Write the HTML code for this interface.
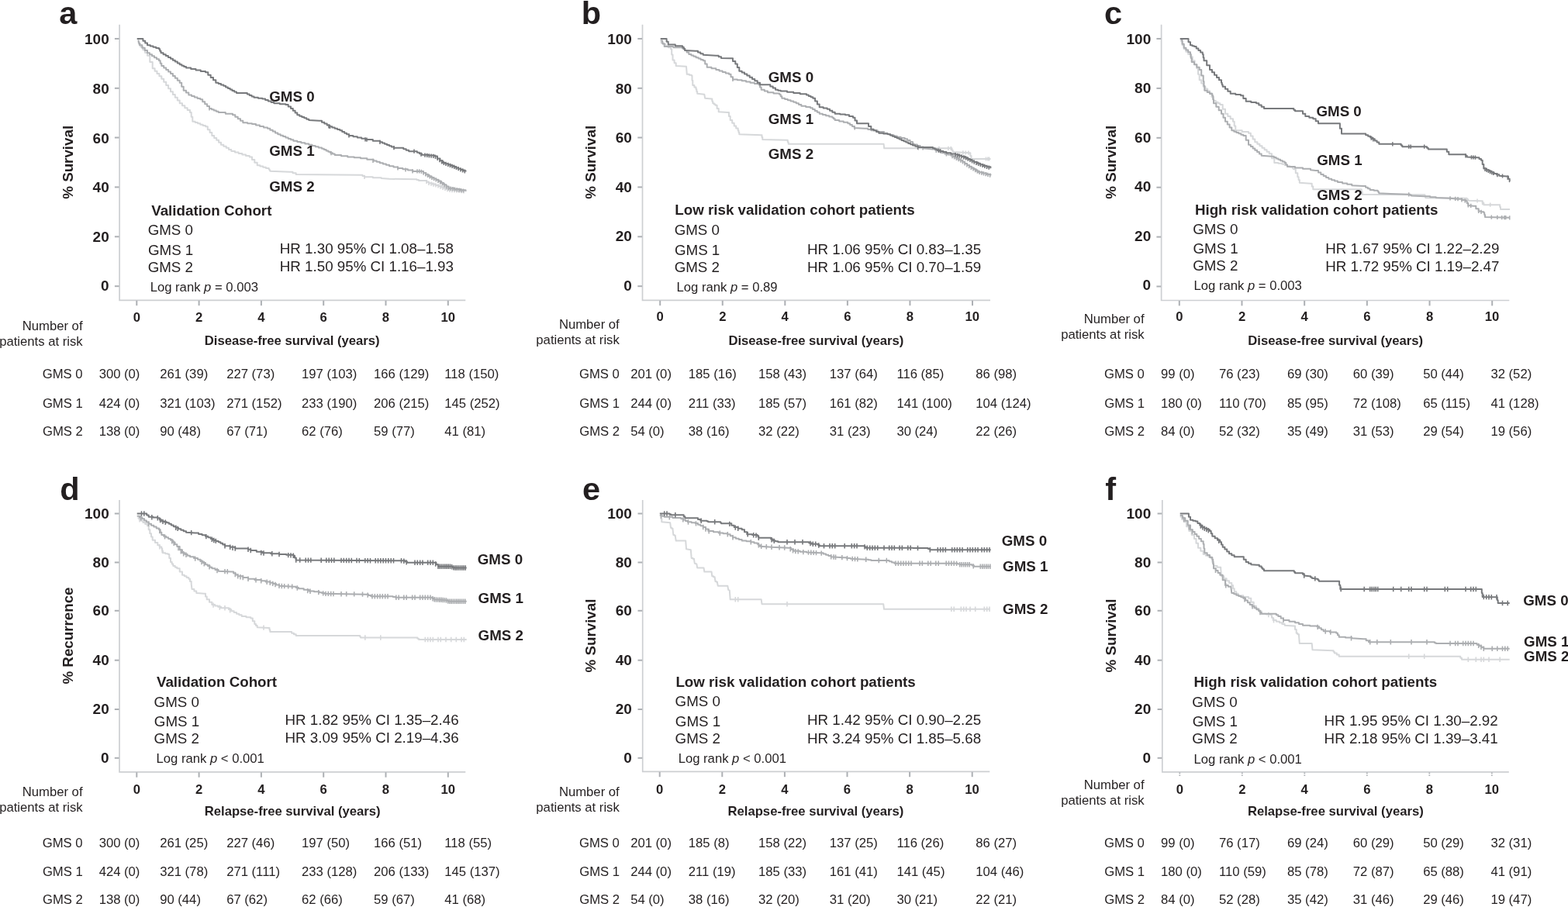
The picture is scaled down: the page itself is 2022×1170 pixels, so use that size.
<!DOCTYPE html>
<html lang="en"><head><meta charset="utf-8"><title>Kaplan–Meier survival by GMS – validation cohort</title>
<style>
html,body{margin:0;padding:0;background:#fff;}
body{width:2022px;height:1170px;overflow:hidden;}
svg{display:block;font-family:"Liberation Sans",Arial,Helvetica,sans-serif;fill:#231f20;}
</style></head><body>
<svg width="2022" height="1170" viewBox="0 0 2022 1170" role="img" aria-label="Kaplan-Meier survival curves by GMS score, panels a to f">
<rect width="2022" height="1170" fill="#fff"/>
<g id="panel-a">
<path d="M178.3 56.7H181.2V60.4H184.2V64.2H187.1V67.9H190.0V71.7H193.3V80.0H196.7V88.3H199.6V91.7H202.5V95.0H205.4V98.3H208.3V101.7H211.2V105.8H214.2V110.0H217.1V114.2H220.0V118.3H222.9V122.1H225.8V125.8H228.8V129.6H231.7V133.3H235.0V136.2H238.3V139.2H241.7V142.1H245.0V145.0H246.7V150.8H248.3V156.7H251.7V158.0H255.0V159.3H258.3V160.7H261.7V162.0H265.0V163.3H267.8V167.2H270.6V171.1H273.3V175.0H276.2V177.9H279.2V180.8H282.1V183.8H285.0V186.7H288.3V188.8H291.7V190.8H295.0V192.9H298.3V195.0H303.0V196.5H307.7V198.0H312.3V199.5H317.0V201.0H321.7V202.5H325.0V206.1H328.3V209.7H331.7V213.3H335.4V214.6H339.2V215.8H342.9V217.1H346.7V218.3H347.5V219.6H348.3V220.8L373.3 221.7H377.5V223.3H381.7V225.0L465.0 225.8H467.5V227.1H470.0V228.3H480.8V229.2H491.7V230.0L502.0 230.8L534.9 231.2H537.4V232.1H540.0V233.1L547.7 233.1H550.3V234.7H552.9V236.3H557.2V237.6H561.5V238.9H565.7V240.2H569.0V241.4H572.2V242.7H575.4V244.0H578.6V245.3H589.5V246.3H600.5V247.2L600.5 247.2" fill="none" stroke="#d6d8da" stroke-width="2.0" stroke-linejoin="round"/>
<path d="M470.0 225.7v5.2M550.0 231.9v5.2M553.0 233.7v5.2M556.0 234.6v5.2M559.0 235.5v5.2M562.0 236.4v5.2M565.0 237.3v5.2M568.0 238.5v5.2M571.0 239.7v5.2M574.0 240.9v5.2M577.0 242.1v5.2M580.0 242.8v5.2M583.0 243.1v5.2M586.0 243.4v5.2M589.0 243.6v5.2M592.0 243.9v5.2M595.0 244.1v5.2M598.0 244.4v5.2" fill="none" stroke="#d6d8da" stroke-width="1.6"/>
<path d="M177.5 52.5H178.8V55.4H180.0V58.3H183.3V61.7H186.7V65.0H190.0V68.3H193.0V70.3H196.0V72.3H199.0V74.3H202.0V76.3H205.0V78.3H206.7V81.7H208.3V85.0H211.2V87.5H214.2V90.0H217.1V92.5H220.0V95.0H222.9V97.9H225.8V100.8H228.8V103.8H231.7V106.7H234.2V111.7H236.7V116.7H240.0V119.6H243.3V122.5H247.1V124.0H250.8V125.4H254.6V126.9H258.3V128.3H261.2V131.2H264.2V134.2H267.1V137.1H270.0V140.0H272.9V141.2H275.8V142.5H278.8V143.8H281.7V145.0H290.8V146.7H300.0V148.3H303.3V150.8H306.7V153.3H310.0V155.8H313.3V158.3H319.2V159.2H325.0V160.0H330.0V161.5H335.0V162.9H340.0V164.4H345.0V165.8H348.3V167.7H351.7V169.6H355.0V171.5H358.3V173.3H361.7V174.7H365.0V176.1H368.3V177.5H371.7V178.9H375.0V180.3H378.3V181.7H383.3V182.9H388.3V184.2H393.3V185.4H398.3V186.7H402.5V187.9H406.7V189.2H410.8V190.4H415.0V191.7H417.8V193.1H420.6V194.4H423.3V195.8H426.1V197.2H428.9V198.6H431.7V200.0H440.0V201.2H448.3V202.5H456.7V203.3H465.0V204.2H473.3V205.8H481.7V207.5H485.7V208.8H489.8V210.2H493.9V211.5H497.9V212.8H502.0V214.2H507.5V215.6H513.0V217.0H519.4V218.3H525.9V219.6H532.3V220.9L542.6 220.9H546.0V223.0H549.4V225.2H552.9V227.3H556.1V228.9H559.3V230.5H562.5V232.1H565.7V233.7H569.0V236.0H572.2V238.2H575.4V240.5H578.6V242.7H585.9V244.0H593.2V245.3H600.5V246.6L600.5 246.6" fill="none" stroke="#acaeb1" stroke-width="2.0" stroke-linejoin="round"/>
<path d="M270.0 137.4v5.2M427.0 195.1v5.2M481.0 204.8v5.2M513.0 214.4v5.2M523.0 216.4v5.2M532.0 218.2v5.2M538.0 218.3v5.2M540.7 218.3v5.2M543.4 218.8v5.2M546.1 220.5v5.2M548.8 222.2v5.2M551.5 223.8v5.2M554.2 225.4v5.2M556.9 226.7v5.2M559.6 228.1v5.2M562.3 229.4v5.2M565.0 230.8v5.2M567.7 232.5v5.2M570.4 234.4v5.2M573.1 236.3v5.2M575.8 238.2v5.2M578.5 240.1v5.2M581.2 240.6v5.2M583.9 241.1v5.2M586.6 241.5v5.2M589.3 242.0v5.2M592.0 242.5v5.2M594.7 243.0v5.2M597.4 243.4v5.2" fill="none" stroke="#acaeb1" stroke-width="1.6"/>
<path d="M176.7 50.0L181.7 50.0H184.4V52.8H187.2V55.6H190.0V58.3H193.8V59.6H197.5V60.8H201.2V62.1H205.0V63.3H206.2V65.8H207.5V68.3H210.6V70.2H213.8V72.1H216.9V74.0H220.0V75.8H222.9V77.7H225.8V79.6H228.8V81.5H231.7V83.3H234.4V84.7H237.2V86.1H240.0V87.5H246.2V89.0H252.5V90.4H258.8V91.9H265.0V93.3H268.3V96.7H271.7V100.0H275.0V103.3H278.3V106.7H281.7V108.1H285.0V109.4H288.3V110.8H291.1V112.4H293.9V113.9H296.7V115.4H299.4V116.9H302.2V118.5H305.0V120.0L315.8 120.0H318.8V121.5H321.7V122.9H324.6V124.4H327.5V125.8H332.9V126.7H338.3V127.5H342.1V129.0H345.8V130.4H349.6V131.9H353.3V133.3H360.8V134.2H368.3V135.0H371.7V137.5H375.0V140.0H377.8V142.8H380.6V145.6H383.3V148.3H386.3V149.7H389.3V151.0H392.3V152.3H395.3V153.7H398.3V155.0L411.7 155.8H415.0V157.7H418.3V159.6H421.7V161.5H425.0V163.3H428.3V164.6H431.7V165.8H435.0V167.1H438.3V168.3H441.2V170.0H444.2V171.7H447.1V173.3H450.0V175.0H455.4V176.2H460.8V177.5H466.2V178.8H471.7V180.0H480.8V181.7H490.0V183.3H493.0V184.6H496.0V185.8H499.0V187.1H502.0V188.3H504.9V189.5H507.9V190.7L516.9 190.7H520.3V192.2H523.7V193.7H527.2V195.2L534.9 195.2H537.9V196.7H540.9V198.2H543.9V199.7H552.2V200.6H560.6V201.6H564.0V204.4H567.5V207.2H570.9V209.9H574.4V211.2H578.0V212.5H581.5V213.8H585.0V215.1H588.1V216.4H591.2V217.7H594.3V218.9H597.4V220.2H600.5V221.5L600.5 221.5" fill="none" stroke="#77797c" stroke-width="2.0" stroke-linejoin="round"/>
<path d="M424.0 160.2v5.2M425.5 160.9v5.2M450.0 172.4v5.2M471.0 177.2v5.2M473.0 177.6v5.2M490.0 180.7v5.2M508.0 188.1v5.2M534.0 192.6v5.2M543.0 196.6v5.2M548.0 197.5v5.2M550.7 197.8v5.2M553.4 198.2v5.2M556.1 198.5v5.2M558.8 198.8v5.2M561.5 199.7v5.2M564.2 201.9v5.2M566.9 204.1v5.2M569.6 206.3v5.2M572.3 207.9v5.2M575.0 208.8v5.2M577.7 209.8v5.2M580.4 210.8v5.2M583.1 211.8v5.2M585.8 212.8v5.2M588.5 213.9v5.2M591.2 215.1v5.2M593.9 216.2v5.2M596.6 217.3v5.2M599.3 218.4v5.2" fill="none" stroke="#77797c" stroke-width="1.6"/>
<path d="M154.10 31.70V387.30H600.30" fill="none" stroke="#cdcfd2" stroke-width="1.7"/>
<line x1="147.90" y1="49.95" x2="153.60" y2="49.95" stroke="#adb0b4" stroke-width="2.0"/>
<text x="109.03" y="57.40" font-size="19.0" font-weight="bold">100</text>
<line x1="147.90" y1="113.80" x2="153.60" y2="113.80" stroke="#adb0b4" stroke-width="2.0"/>
<text x="119.57" y="120.90" font-size="19.0" font-weight="bold">80</text>
<line x1="147.90" y1="177.50" x2="153.60" y2="177.50" stroke="#adb0b4" stroke-width="2.0"/>
<text x="119.57" y="184.50" font-size="19.0" font-weight="bold">60</text>
<line x1="147.90" y1="241.40" x2="153.60" y2="241.40" stroke="#adb0b4" stroke-width="2.0"/>
<text x="119.57" y="248.00" font-size="19.0" font-weight="bold">40</text>
<line x1="147.90" y1="305.30" x2="153.60" y2="305.30" stroke="#adb0b4" stroke-width="2.0"/>
<text x="119.57" y="311.60" font-size="19.0" font-weight="bold">20</text>
<line x1="147.90" y1="369.20" x2="153.60" y2="369.20" stroke="#adb0b4" stroke-width="2.0"/>
<text x="130.12" y="375.10" font-size="19.0" font-weight="bold">0</text>
<line x1="176.30" y1="387.80" x2="176.30" y2="394.20" stroke="#adb0b4" stroke-width="2.0"/>
<text x="171.67" y="414.50" font-size="16.67" font-weight="bold">0</text>
<line x1="256.60" y1="387.80" x2="256.60" y2="394.20" stroke="#adb0b4" stroke-width="2.0"/>
<text x="252.02" y="414.50" font-size="16.67" font-weight="bold">2</text>
<line x1="336.90" y1="387.80" x2="336.90" y2="394.20" stroke="#adb0b4" stroke-width="2.0"/>
<text x="332.19" y="414.50" font-size="16.67" font-weight="bold">4</text>
<line x1="417.20" y1="387.80" x2="417.20" y2="394.20" stroke="#adb0b4" stroke-width="2.0"/>
<text x="412.57" y="414.50" font-size="16.67" font-weight="bold">6</text>
<line x1="497.50" y1="387.80" x2="497.50" y2="394.20" stroke="#adb0b4" stroke-width="2.0"/>
<text x="492.87" y="414.50" font-size="16.67" font-weight="bold">8</text>
<line x1="577.80" y1="387.80" x2="577.80" y2="394.20" stroke="#adb0b4" stroke-width="2.0"/>
<text x="568.38" y="414.50" font-size="16.67" font-weight="bold">10</text>
<text x="76.15" y="30.80" font-size="41.5" font-weight="bold">a</text>
<text transform="translate(94.00 209.30) rotate(-90)" text-anchor="middle" font-size="18.75" font-weight="bold">% Survival</text>
<text x="263.72" y="445.00" font-size="16.67" font-weight="bold">Disease-free survival (years)</text>
<text x="28.75" y="425.80" font-size="16.67">Number of</text>
<text x="-0.84" y="445.80" font-size="16.67">patients at risk</text>
<text x="195.21" y="277.60" font-size="18.75" font-weight="bold">Validation Cohort</text>
<text x="190.66" y="303.20" font-size="18.75">GMS 0</text>
<text x="190.96" y="328.60" font-size="18.75">GMS 1</text>
<text x="190.66" y="350.60" font-size="18.75">GMS 2</text>
<text x="360.80" y="327.00" font-size="18.75">HR 1.30 95% CI 1.08–1.58</text>
<text x="360.80" y="350.30" font-size="18.75">HR 1.50 95% CI 1.16–1.93</text>
<text x="193.67" y="375.60" font-size="16.67">Log rank <tspan font-style="italic">p</tspan> = 0.003</text>
<text x="347.25" y="131.20" font-size="18.75" font-weight="bold">GMS 0</text>
<text x="347.25" y="200.70" font-size="18.75" font-weight="bold">GMS 1</text>
<text x="347.25" y="246.70" font-size="18.75" font-weight="bold">GMS 2</text>
<text x="54.74" y="487.50" font-size="16.67">GMS 0</text>
<text x="127.63" y="487.50" font-size="16.67">300 (0)</text>
<text x="206.17" y="487.50" font-size="16.67">261 (39)</text>
<text x="292.17" y="487.50" font-size="16.67">227 (73)</text>
<text x="389.10" y="487.50" font-size="16.67">197 (103)</text>
<text x="482.10" y="487.50" font-size="16.67">166 (129)</text>
<text x="573.30" y="487.50" font-size="16.67">118 (150)</text>
<text x="54.91" y="525.80" font-size="16.67">GMS 1</text>
<text x="127.63" y="525.80" font-size="16.67">424 (0)</text>
<text x="206.17" y="525.80" font-size="16.67">321 (103)</text>
<text x="292.17" y="525.80" font-size="16.67">271 (152)</text>
<text x="389.10" y="525.80" font-size="16.67">233 (190)</text>
<text x="482.10" y="525.80" font-size="16.67">206 (215)</text>
<text x="573.30" y="525.80" font-size="16.67">145 (252)</text>
<text x="54.99" y="561.70" font-size="16.67">GMS 2</text>
<text x="127.63" y="561.70" font-size="16.67">138 (0)</text>
<text x="206.17" y="561.70" font-size="16.67">90 (48)</text>
<text x="292.17" y="561.70" font-size="16.67">67 (71)</text>
<text x="389.10" y="561.70" font-size="16.67">62 (76)</text>
<text x="482.10" y="561.70" font-size="16.67">59 (77)</text>
<text x="573.30" y="561.70" font-size="16.67">41 (81)</text>
</g>
<g id="panel-b">
<path d="M851.7 55.0H855.0V57.1H858.3V59.2H861.7V61.2H865.0V63.3H866.2V70.4H867.5V77.5H869.6V81.2H871.7V85.0L885.0 85.8L885.8 95.8H888.8V96.7H891.7V97.5H892.5V103.8H893.3V110.0H895.4V112.5H897.5V115.0H898.3V117.9H899.2V120.8L908.3 121.7L909.2 126.7L917.5 127.5H918.3V130.4H919.2V133.3H920.8V134.6H922.5V135.8H924.6V140.0H926.7V144.2L938.3 145.0H940.0V150.0H941.7V155.0H944.2V158.8H946.7V162.5H949.2V165.4H951.7V168.3H952.5V170.8H953.3V173.3L981.7 174.2H982.5V177.1H983.3V180.0L1015.0 180.8H1015.8V183.3H1016.7V185.8L1060.0 185.8L1139.6 185.8L1140.2 191.3L1226.3 191.3H1227.5V193.7H1228.7V196.0L1250.1 197.2H1251.3V201.1H1252.5V205.0L1277.4 205.0L1277.5 205.0" fill="none" stroke="#d6d8da" stroke-width="2.0" stroke-linejoin="round"/>
<path d="M1184.2 188.7v5.2M1210.9 188.7v5.2M1222.8 188.7v5.2M1226.3 188.7v5.2M1241.8 194.2v5.2M1245.3 194.4v5.2M1248.9 194.6v5.2M1271.5 202.4v5.2M1273.9 202.4v5.2M1275.6 202.4v5.2" fill="none" stroke="#d6d8da" stroke-width="1.6"/>
<path d="M851.7 52.5H854.2V56.2H856.7V60.0H868.3V61.2H880.0V62.5H882.8V65.0H885.6V67.5H888.3V70.0H891.4V71.4H894.4V72.8H897.5V74.2H900.6V75.6H903.6V76.9H906.7V78.3H909.2V82.5H911.7V86.7H917.5V88.3H923.3V90.0H927.5V91.5H931.7V92.9H935.8V94.4H940.0V95.8H942.5V99.2H945.0V102.5H950.8V103.3H956.7V104.2H962.1V105.4H967.5V106.7H972.9V107.9H978.3V109.2H980.0V112.5H981.7V115.8H985.8V117.5H990.0V119.2H997.5V120.4H1005.0V121.7H1006.7V124.2H1008.3V126.7H1012.1V127.9H1015.8V129.2H1019.6V130.4H1023.3V131.7H1026.7V133.3H1030.0V135.0H1033.3V136.7H1039.2V137.9H1045.0V139.2H1047.9V141.0H1050.8V142.9H1053.8V144.8H1056.7V146.7H1060.8V147.9H1065.0V149.2H1069.2V150.4H1073.3V151.7H1075.0V153.3H1076.7V155.0H1082.2V156.4H1087.8V157.8H1093.3V159.2H1096.1V161.1H1098.9V163.1H1101.7V165.0L1115.0 165.8H1119.2V167.1H1123.3V168.3H1131.7V170.0H1140.0V171.7H1144.2V172.9H1148.3V174.2H1152.5V175.4H1156.7V176.7H1161.7V177.9H1166.7V179.2H1170.1V181.1H1173.6V183.1H1177.0V185.0H1177.9V185.8H1178.8V186.5H1182.8V188.1H1186.7V189.7H1190.7V191.3L1202.6 192.5H1206.5V194.1H1210.5V195.6H1214.5V197.2H1218.4V198.4H1222.4V199.6H1226.3V200.8H1229.3V202.3H1232.3V203.8H1235.2V205.2H1238.2V206.7H1241.2V208.8H1244.2V210.9H1247.1V213.0H1250.1V215.0H1253.1V216.8H1256.0V218.6H1259.0V220.4H1262.0V222.2H1267.1V223.6H1272.3V225.0H1277.4V226.3L1277.5 226.3" fill="none" stroke="#acaeb1" stroke-width="2.0" stroke-linejoin="round"/>
<path d="M945.0 99.9v5.2M1102.2 162.4v5.2M1190.1 188.4v5.2M1207.3 191.8v5.2M1220.4 196.4v5.2M1228.0 199.0v5.2M1230.7 200.4v5.2M1233.4 201.7v5.2M1236.1 203.1v5.2M1238.8 204.5v5.2M1241.5 206.4v5.2M1244.2 208.3v5.2M1246.9 210.2v5.2M1249.6 212.1v5.2M1252.3 213.8v5.2M1255.0 215.4v5.2M1257.7 217.0v5.2M1260.4 218.6v5.2M1263.1 219.9v5.2M1265.8 220.6v5.2M1268.5 221.3v5.2M1271.2 222.1v5.2M1273.9 222.8v5.2M1276.6 223.5v5.2" fill="none" stroke="#acaeb1" stroke-width="1.6"/>
<path d="M851.7 50.0L857.5 50.0H859.6V53.8H861.7V57.5H870.8V59.2H880.0V60.8H881.7V62.9H883.3V65.0L896.7 65.8H900.0V67.5H903.3V69.2H906.7V70.8L923.3 71.7H926.7V73.3H930.0V75.0L941.7 75.3H945.0V78.9H948.3V82.5H950.8V87.1H953.3V91.7H956.7V93.6H960.0V95.6H963.3V97.5H966.7V99.7H970.0V101.9H973.3V104.2H976.7V106.7H980.0V109.2L990.0 109.2H993.3V111.4H996.7V113.6H1000.0V115.8H1003.3V116.7H1006.7V117.5H1015.0V118.8H1023.3V120.0H1031.7V121.2H1040.0V122.5H1042.8V123.9H1045.6V125.3H1048.3V126.7H1051.1V130.6H1053.9V134.4H1056.7V138.3H1061.7V139.6H1066.7V140.8H1070.0V142.8H1073.3V144.7H1076.7V146.7H1083.3V147.5H1090.0V148.3H1095.0V150.0H1100.0V151.7H1102.5V155.4H1105.0V159.2L1116.7 159.2H1120.0V162.9H1123.3V166.7H1126.7V168.3H1130.0V170.0H1133.3V171.7H1139.2V172.5H1145.0V173.3H1147.9V174.6H1150.8V175.8H1153.8V177.1H1156.7V178.3H1159.6V179.6H1162.5V181.0H1165.4V182.3H1168.3V183.6H1171.2V184.9H1174.1V186.2H1177.0V187.5H1180.3V188.8H1183.6V190.1L1200.2 190.1H1203.0V191.3H1205.7V192.5H1208.5V193.7H1212.5V194.9H1216.4V196.0H1220.4V197.2H1226.3V198.4H1232.3V199.6H1236.2V200.8H1240.2V202.0H1244.2V203.2H1247.1V204.7H1250.1V206.1H1253.1V207.6H1256.0V209.1H1260.0V210.7H1264.0V212.3H1267.9V213.9H1272.7V215.3H1277.4V216.8L1277.5 216.8" fill="none" stroke="#77797c" stroke-width="2.0" stroke-linejoin="round"/>
<path d="M1183.6 187.5v5.2M1210.3 191.6v5.2M1212.7 192.3v5.2M1232.0 196.9v5.2M1234.7 197.7v5.2M1237.4 198.5v5.2M1240.1 199.4v5.2M1242.8 200.2v5.2M1245.5 201.2v5.2M1248.2 202.6v5.2M1250.9 203.9v5.2M1253.6 205.3v5.2M1256.3 206.6v5.2M1259.0 207.7v5.2M1261.7 208.8v5.2M1264.4 209.9v5.2M1267.1 210.9v5.2M1269.8 211.8v5.2M1272.5 212.7v5.2M1275.2 213.5v5.2" fill="none" stroke="#77797c" stroke-width="1.6"/>
<path d="M828.50 31.70V387.30H1277.00" fill="none" stroke="#cdcfd2" stroke-width="1.7"/>
<line x1="822.30" y1="49.95" x2="828.00" y2="49.95" stroke="#adb0b4" stroke-width="2.0"/>
<text x="783.23" y="57.20" font-size="19.0" font-weight="bold">100</text>
<line x1="822.30" y1="113.80" x2="828.00" y2="113.80" stroke="#adb0b4" stroke-width="2.0"/>
<text x="793.77" y="120.70" font-size="19.0" font-weight="bold">80</text>
<line x1="822.30" y1="177.50" x2="828.00" y2="177.50" stroke="#adb0b4" stroke-width="2.0"/>
<text x="793.77" y="184.30" font-size="19.0" font-weight="bold">60</text>
<line x1="822.30" y1="241.40" x2="828.00" y2="241.40" stroke="#adb0b4" stroke-width="2.0"/>
<text x="793.77" y="247.80" font-size="19.0" font-weight="bold">40</text>
<line x1="822.30" y1="305.30" x2="828.00" y2="305.30" stroke="#adb0b4" stroke-width="2.0"/>
<text x="793.77" y="311.40" font-size="19.0" font-weight="bold">20</text>
<line x1="822.30" y1="369.20" x2="828.00" y2="369.20" stroke="#adb0b4" stroke-width="2.0"/>
<text x="804.32" y="374.90" font-size="19.0" font-weight="bold">0</text>
<line x1="851.20" y1="387.80" x2="851.20" y2="394.20" stroke="#adb0b4" stroke-width="2.0"/>
<text x="846.57" y="414.30" font-size="16.67" font-weight="bold">0</text>
<line x1="931.76" y1="387.80" x2="931.76" y2="394.20" stroke="#adb0b4" stroke-width="2.0"/>
<text x="927.18" y="414.30" font-size="16.67" font-weight="bold">2</text>
<line x1="1012.32" y1="387.80" x2="1012.32" y2="394.20" stroke="#adb0b4" stroke-width="2.0"/>
<text x="1007.61" y="414.30" font-size="16.67" font-weight="bold">4</text>
<line x1="1092.88" y1="387.80" x2="1092.88" y2="394.20" stroke="#adb0b4" stroke-width="2.0"/>
<text x="1088.25" y="414.30" font-size="16.67" font-weight="bold">6</text>
<line x1="1173.44" y1="387.80" x2="1173.44" y2="394.20" stroke="#adb0b4" stroke-width="2.0"/>
<text x="1168.81" y="414.30" font-size="16.67" font-weight="bold">8</text>
<line x1="1254.00" y1="387.80" x2="1254.00" y2="394.20" stroke="#adb0b4" stroke-width="2.0"/>
<text x="1244.58" y="414.30" font-size="16.67" font-weight="bold">10</text>
<text x="749.82" y="30.80" font-size="41.5" font-weight="bold">b</text>
<text transform="translate(767.50 209.30) rotate(-90)" text-anchor="middle" font-size="18.75" font-weight="bold">% Survival</text>
<text x="939.42" y="445.00" font-size="16.67" font-weight="bold">Disease-free survival (years)</text>
<text x="720.95" y="424.30" font-size="16.67">Number of</text>
<text x="691.36" y="444.30" font-size="16.67">patients at risk</text>
<text x="870.28" y="277.00" font-size="18.75" font-weight="bold">Low risk validation cohort patients</text>
<text x="869.66" y="303.20" font-size="18.75">GMS 0</text>
<text x="869.96" y="328.60" font-size="18.75">GMS 1</text>
<text x="869.66" y="350.60" font-size="18.75">GMS 2</text>
<text x="1041.00" y="327.60" font-size="18.75">HR 1.06 95% CI 0.83–1.35</text>
<text x="1041.00" y="351.10" font-size="18.75">HR 1.06 95% CI 0.70–1.59</text>
<text x="872.47" y="375.60" font-size="16.67">Log rank <tspan font-style="italic">p</tspan> = 0.89</text>
<text x="990.75" y="105.50" font-size="18.75" font-weight="bold">GMS 0</text>
<text x="990.75" y="159.50" font-size="18.75" font-weight="bold">GMS 1</text>
<text x="990.75" y="205.00" font-size="18.75" font-weight="bold">GMS 2</text>
<text x="747.04" y="487.50" font-size="16.67">GMS 0</text>
<text x="813.17" y="487.50" font-size="16.67">201 (0)</text>
<text x="887.80" y="487.50" font-size="16.67">185 (16)</text>
<text x="978.10" y="487.50" font-size="16.67">158 (43)</text>
<text x="1069.80" y="487.50" font-size="16.67">137 (64)</text>
<text x="1156.40" y="487.50" font-size="16.67">116 (85)</text>
<text x="1258.35" y="487.50" font-size="16.67">86 (98)</text>
<text x="747.21" y="525.80" font-size="16.67">GMS 1</text>
<text x="813.17" y="525.80" font-size="16.67">244 (0)</text>
<text x="887.80" y="525.80" font-size="16.67">211 (33)</text>
<text x="978.10" y="525.80" font-size="16.67">185 (57)</text>
<text x="1069.80" y="525.80" font-size="16.67">161 (82)</text>
<text x="1156.40" y="525.80" font-size="16.67">141 (100)</text>
<text x="1258.35" y="525.80" font-size="16.67">104 (124)</text>
<text x="747.29" y="561.70" font-size="16.67">GMS 2</text>
<text x="813.17" y="561.70" font-size="16.67">54 (0)</text>
<text x="887.80" y="561.70" font-size="16.67">38 (16)</text>
<text x="978.10" y="561.70" font-size="16.67">32 (22)</text>
<text x="1069.80" y="561.70" font-size="16.67">31 (23)</text>
<text x="1156.40" y="561.70" font-size="16.67">30 (24)</text>
<text x="1258.35" y="561.70" font-size="16.67">22 (26)</text>
</g>
<g id="panel-c">
<path d="M1522.5 53.3H1524.6V58.3H1526.7V63.3H1529.4V66.7H1532.2V70.0H1535.0V73.3H1537.8V78.3H1540.6V83.3H1543.3V88.3H1545.0V95.8H1546.7V103.3H1549.2V107.5H1551.7V111.7H1554.4V114.4H1557.2V117.2H1560.0V120.0H1562.5V125.0H1565.0V130.0H1567.8V131.7H1570.6V133.3H1573.3V135.0H1576.7V140.8H1580.0V146.7H1583.3V150.0H1586.7V153.3H1590.0V156.7H1591.7V162.5H1593.3V168.3H1601.7V170.0H1610.0V171.7H1612.8V175.6H1615.6V179.4H1618.3V183.3H1621.4V185.8H1624.4V188.3H1627.5V190.8H1630.6V193.3H1633.6V195.8H1636.7V198.3H1640.0V204.2H1643.3V210.0H1648.3V210.8H1653.3V211.7H1656.7V212.9H1660.0V214.2H1663.3V215.4H1666.7V216.7H1667.5V217.5H1668.3V218.3H1670.8V223.3H1673.3V228.3H1674.6V232.1H1675.8V235.8L1690.0 236.7H1691.7V240.4H1693.3V244.2L1755.0 244.2H1755.8V247.5H1756.7V250.8L1836.7 251.3H1837.5V253.3H1838.3V255.3L1890.0 255.8H1891.7V257.2H1893.3V258.7L1910.0 259.2H1911.7V261.7H1913.3V264.2L1933.3 264.2H1934.2V267.1H1935.0V270.0L1946.7 270.0L1947.0 270.0" fill="none" stroke="#d6d8da" stroke-width="2.0" stroke-linejoin="round"/>
<path d="M1905.0 256.4v5.2M1911.7 259.1v5.2M1921.7 261.6v5.2" fill="none" stroke="#d6d8da" stroke-width="1.6"/>
<path d="M1522.5 51.7H1524.6V56.7H1526.7V61.7H1529.4V64.4H1532.2V67.2H1535.0V70.0H1535.8V75.0H1536.7V80.0H1540.0V83.3H1543.3V86.7H1546.7V90.0H1549.2V97.5H1551.7V105.0H1552.5V110.8H1553.3V116.7H1556.7V118.9H1560.0V121.1H1563.3V123.3H1564.2V128.3H1565.0V133.3H1568.3V137.8H1571.7V142.2H1575.0V146.7H1577.5V151.7H1580.0V156.7H1582.8V160.6H1585.6V164.4H1588.3V168.3H1591.3V169.7H1594.3V171.0H1597.3V172.3H1600.3V173.7H1603.3V175.0H1606.7V180.8H1610.0V186.7H1612.8V189.0H1615.6V191.4H1618.3V193.8H1621.1V196.1H1623.9V198.5H1626.7V200.8L1640.0 201.7H1642.8V203.1H1645.6V204.4H1648.3V205.8H1651.1V207.2H1653.9V208.6H1656.7V210.0H1658.3V212.5H1660.0V215.0H1670.0V216.4H1680.0V217.8H1690.0V219.2L1696.7 220.0H1700.0V222.5H1703.3V225.0H1706.7V226.9H1710.0V228.9H1713.3V230.8H1717.2V232.2H1721.1V233.6H1725.0V235.0H1731.1V236.4H1737.2V237.8H1743.3V239.2L1758.3 240.0H1761.1V241.7H1763.9V243.3H1766.7V245.0H1771.7V245.8H1776.7V246.7H1777.5V247.9H1778.3V249.2L1793.3 250.0L1816.7 250.8H1818.3V251.7H1820.0V252.5L1836.7 253.3H1844.2V254.2H1851.7V255.0L1870.0 255.8L1880.0 256.7H1885.0V257.9H1890.0V259.2H1891.7V262.1H1893.3V265.0L1900.0 265.8H1903.3V269.2H1906.7V272.5H1910.0V273.3H1913.3V274.2H1914.2V277.1H1915.0V280.0L1946.7 280.8L1947.0 280.8" fill="none" stroke="#acaeb1" stroke-width="2.0" stroke-linejoin="round"/>
<path d="M1816.7 248.2v5.2M1870.0 253.2v5.2M1876.7 253.8v5.2M1880.0 254.1v5.2M1885.0 255.3v5.2M1889.2 256.4v5.2M1893.3 262.4v5.2M1896.7 262.8v5.2M1906.7 269.9v5.2M1910.0 270.7v5.2M1923.3 277.6v5.2M1930.8 277.8v5.2M1936.7 278.0v5.2M1940.0 278.1v5.2M1941.7 278.1v5.2M1946.7 278.2v5.2" fill="none" stroke="#acaeb1" stroke-width="1.6"/>
<path d="M1521.7 50.0L1530.0 50.0H1532.5V54.2H1535.0V58.3H1537.5V59.2H1540.0V60.0H1542.7V62.5H1545.4V65.0H1548.1V67.5H1550.8V70.0H1551.7V74.2H1552.5V78.3H1556.2V84.2H1560.0V90.0H1563.0V93.3H1566.0V96.7H1569.0V100.0H1572.0V103.3H1575.0V106.7H1575.8V109.2H1576.7V111.7H1580.0V114.7H1583.3V117.8H1586.7V120.8H1593.3V122.1H1600.0V123.3H1603.3V127.1H1606.7V130.8H1613.3V132.1H1620.0V133.3H1623.3V135.6H1626.7V137.8H1630.0V140.0L1666.7 140.0H1668.3V141.7H1670.0V143.3L1676.7 143.3H1680.0V146.7H1683.3V150.0H1688.3V151.7H1693.3V153.3H1696.7V156.2H1700.0V159.2L1725.8 159.2H1727.9V165.8H1730.0V172.5L1758.3 172.5H1761.2V174.2H1764.2V175.8H1767.1V177.5H1770.0V179.2H1772.8V181.4H1775.6V183.6H1778.3V185.8L1805.0 185.8H1806.7V187.5H1808.3V189.2L1838.3 189.2H1840.0V190.8H1841.7V192.5L1863.3 192.5H1865.8V195.8H1868.3V199.2L1888.3 199.2H1890.0V200.8H1891.7V202.5L1905.0 203.3H1907.5V205.0H1910.0V206.7H1911.7V212.1H1913.3V217.5H1916.7V219.2H1920.0V220.8H1923.3V222.5H1926.7V223.9H1930.0V225.3H1933.3V226.7L1943.3 227.5H1945.0V230.8H1946.7V234.2L1947.0 234.2" fill="none" stroke="#77797c" stroke-width="2.0" stroke-linejoin="round"/>
<path d="M1768.3 175.6v5.2M1770.8 177.2v5.2M1795.8 183.2v5.2M1816.7 186.6v5.2M1819.2 186.6v5.2M1836.7 186.6v5.2M1890.0 198.2v5.2M1897.5 200.3v5.2M1900.0 200.4v5.2M1902.5 200.6v5.2M1915.0 215.7v5.2M1917.2 216.8v5.2M1919.3 217.9v5.2M1921.5 219.0v5.2M1923.7 220.0v5.2M1925.8 220.9v5.2M1930.8 223.0v5.2M1937.5 224.4v5.2M1944.2 226.6v5.2" fill="none" stroke="#77797c" stroke-width="1.6"/>
<path d="M1497.60 31.70V387.50H1946.30" fill="none" stroke="#cdcfd2" stroke-width="1.7"/>
<line x1="1491.40" y1="49.95" x2="1497.10" y2="49.95" stroke="#adb0b4" stroke-width="2.0"/>
<text x="1452.53" y="56.50" font-size="19.0" font-weight="bold">100</text>
<line x1="1491.40" y1="113.90" x2="1497.10" y2="113.90" stroke="#adb0b4" stroke-width="2.0"/>
<text x="1463.07" y="120.00" font-size="19.0" font-weight="bold">80</text>
<line x1="1491.40" y1="177.80" x2="1497.10" y2="177.80" stroke="#adb0b4" stroke-width="2.0"/>
<text x="1463.07" y="183.60" font-size="19.0" font-weight="bold">60</text>
<line x1="1491.40" y1="241.70" x2="1497.10" y2="241.70" stroke="#adb0b4" stroke-width="2.0"/>
<text x="1463.07" y="247.10" font-size="19.0" font-weight="bold">40</text>
<line x1="1491.40" y1="305.60" x2="1497.10" y2="305.60" stroke="#adb0b4" stroke-width="2.0"/>
<text x="1463.07" y="310.70" font-size="19.0" font-weight="bold">20</text>
<line x1="1491.40" y1="369.50" x2="1497.10" y2="369.50" stroke="#adb0b4" stroke-width="2.0"/>
<text x="1473.62" y="374.20" font-size="19.0" font-weight="bold">0</text>
<line x1="1520.80" y1="388.00" x2="1520.80" y2="394.40" stroke="#adb0b4" stroke-width="2.0"/>
<text x="1516.17" y="414.10" font-size="16.67" font-weight="bold">0</text>
<line x1="1601.48" y1="388.00" x2="1601.48" y2="394.40" stroke="#adb0b4" stroke-width="2.0"/>
<text x="1596.90" y="414.10" font-size="16.67" font-weight="bold">2</text>
<line x1="1682.16" y1="388.00" x2="1682.16" y2="394.40" stroke="#adb0b4" stroke-width="2.0"/>
<text x="1677.45" y="414.10" font-size="16.67" font-weight="bold">4</text>
<line x1="1762.84" y1="388.00" x2="1762.84" y2="394.40" stroke="#adb0b4" stroke-width="2.0"/>
<text x="1758.21" y="414.10" font-size="16.67" font-weight="bold">6</text>
<line x1="1843.52" y1="388.00" x2="1843.52" y2="394.40" stroke="#adb0b4" stroke-width="2.0"/>
<text x="1838.89" y="414.10" font-size="16.67" font-weight="bold">8</text>
<line x1="1924.20" y1="388.00" x2="1924.20" y2="394.40" stroke="#adb0b4" stroke-width="2.0"/>
<text x="1914.78" y="414.10" font-size="16.67" font-weight="bold">10</text>
<text x="1424.08" y="30.80" font-size="41.5" font-weight="bold">c</text>
<text transform="translate(1439.00 209.30) rotate(-90)" text-anchor="middle" font-size="18.75" font-weight="bold">% Survival</text>
<text x="1609.22" y="445.00" font-size="16.67" font-weight="bold">Disease-free survival (years)</text>
<text x="1397.75" y="416.50" font-size="16.67">Number of</text>
<text x="1368.16" y="436.50" font-size="16.67">patients at risk</text>
<text x="1540.88" y="276.50" font-size="18.75" font-weight="bold">High risk validation cohort patients</text>
<text x="1538.16" y="301.50" font-size="18.75">GMS 0</text>
<text x="1538.46" y="327.00" font-size="18.75">GMS 1</text>
<text x="1538.16" y="349.00" font-size="18.75">GMS 2</text>
<text x="1709.30" y="326.50" font-size="18.75">HR 1.67 95% CI 1.22–2.29</text>
<text x="1709.30" y="349.80" font-size="18.75">HR 1.72 95% CI 1.19–2.47</text>
<text x="1539.47" y="373.50" font-size="16.67">Log rank <tspan font-style="italic">p</tspan> = 0.003</text>
<text x="1697.45" y="149.70" font-size="18.75" font-weight="bold">GMS 0</text>
<text x="1698.25" y="212.60" font-size="18.75" font-weight="bold">GMS 1</text>
<text x="1698.25" y="258.10" font-size="18.75" font-weight="bold">GMS 2</text>
<text x="1424.04" y="487.50" font-size="16.67">GMS 0</text>
<text x="1497.05" y="487.50" font-size="16.67">99 (0)</text>
<text x="1571.97" y="487.50" font-size="16.67">76 (23)</text>
<text x="1659.97" y="487.50" font-size="16.67">69 (30)</text>
<text x="1744.77" y="487.50" font-size="16.67">60 (39)</text>
<text x="1835.13" y="487.50" font-size="16.67">50 (44)</text>
<text x="1922.43" y="487.50" font-size="16.67">32 (52)</text>
<text x="1424.21" y="525.80" font-size="16.67">GMS 1</text>
<text x="1497.05" y="525.80" font-size="16.67">180 (0)</text>
<text x="1571.97" y="525.80" font-size="16.67">110 (70)</text>
<text x="1659.97" y="525.80" font-size="16.67">85 (95)</text>
<text x="1744.77" y="525.80" font-size="16.67">72 (108)</text>
<text x="1835.13" y="525.80" font-size="16.67">65 (115)</text>
<text x="1922.43" y="525.80" font-size="16.67">41 (128)</text>
<text x="1424.29" y="561.70" font-size="16.67">GMS 2</text>
<text x="1497.05" y="561.70" font-size="16.67">84 (0)</text>
<text x="1571.97" y="561.70" font-size="16.67">52 (32)</text>
<text x="1659.97" y="561.70" font-size="16.67">35 (49)</text>
<text x="1744.77" y="561.70" font-size="16.67">31 (53)</text>
<text x="1835.13" y="561.70" font-size="16.67">29 (54)</text>
<text x="1922.43" y="561.70" font-size="16.67">19 (56)</text>
</g>
<g id="panel-d">
<path d="M177.5 668.3H179.6V670.0H181.7V671.7H184.4V673.9H187.2V676.1H190.0V678.3H191.7V683.3H193.3V688.3H195.0V692.5H196.7V696.7H200.0V700.0H203.3V703.3H205.8V705.4H208.3V707.5H209.2V710.4H210.0V713.3H213.3V714.2H216.7V715.0H218.3V720.0H220.0V725.0H221.7V727.5H223.3V730.0H225.8V731.7H228.3V733.3H231.7V737.5H235.0V741.7H237.8V743.3H240.6V745.0H243.3V746.7H245.0V750.0H246.7V753.3L247.5 760.0H250.4V762.5H253.3V765.0L263.3 765.8H265.0V769.6H266.7V773.3H270.0V776.7H273.3V780.0H277.2V781.4H281.1V782.8H285.0V784.2L291.7 784.2H295.0V786.2H298.3V788.3H301.7V790.0H305.0V791.7H308.3V793.3H311.7V795.0H317.5V796.2H323.3V797.5H325.8V801.2H328.3V805.0H330.0V807.1H331.7V809.2L346.7 810.0H347.5V812.5H348.3V815.0L373.3 815.0H376.1V816.7H378.9V818.3H381.7V820.0L463.3 820.0H464.2V821.2H465.0V822.5L536.7 822.5H538.3V823.8H540.0V825.0L601.7 825.0L601.7 825.0" fill="none" stroke="#d6d8da" stroke-width="2.0" stroke-linejoin="round"/>
<path d="M180.0 667.1v6.4M205.8 702.2v6.4M209.2 707.2v6.4M275.0 777.4v6.4M283.3 780.4v6.4M290.0 781.0v6.4M296.7 784.1v6.4M340.0 806.4v6.4M470.8 819.3v6.4M490.8 819.3v6.4M470.8 819.3v6.4M490.8 819.3v6.4M548.3 821.8v6.4M551.7 821.8v6.4M555.0 821.8v6.4M558.3 821.8v6.4M565.0 821.8v6.4M568.3 821.8v6.4M575.0 821.8v6.4M581.7 821.8v6.4M588.3 821.8v6.4M595.0 821.8v6.4M598.3 821.8v6.4" fill="none" stroke="#d6d8da" stroke-width="1.6"/>
<path d="M176.7 665.8H180.0V667.5H183.3V669.2H186.1V671.4H188.9V673.6H191.7V675.8H195.0V677.7H198.3V679.6H201.7V681.5H205.0V683.3H206.7V686.7H208.3V690.0H211.2V691.7H214.2V693.3H217.1V695.0H220.0V696.7H222.8V699.4H225.6V702.2H228.3V705.0H231.7V709.2H235.0V713.3H238.3V715.0H241.7V716.7H245.0V718.3H250.0V720.0H255.0V721.7H258.3V723.9H261.7V726.1H265.0V728.3H267.8V730.0H270.6V731.7H273.3V733.3H277.5V735.0H281.7V736.7L298.3 737.5H301.1V739.4H303.9V741.4H306.7V743.3H313.3V745.0H320.0V746.7H328.3V747.9H336.7V749.2H342.5V750.4H348.3V751.7H352.2V753.1H356.1V754.4H360.0V755.8L378.3 756.7H381.7V757.9H385.0V759.2H391.7V760.8H398.3V762.5H405.0V763.3H411.7V764.2H415.0V765.0H418.3V765.8L471.7 766.7H475.0V767.9H478.3V769.2L502.0 769.2L503.3 769.2H506.7V770.0H510.0V770.8L555.0 770.8H557.5V772.1H560.0V773.3L575.0 774.2H576.7V775.0H578.3V775.8L601.7 775.8L601.7 775.8" fill="none" stroke="#acaeb1" stroke-width="2.0" stroke-linejoin="round"/>
<path d="M181.7 665.1v6.4M191.7 672.6v6.4M205.8 681.8v6.4M212.5 689.2v6.4M221.7 695.1v6.4M224.2 697.6v6.4M230.0 703.9v6.4M233.3 708.0v6.4M236.7 711.0v6.4M240.0 712.6v6.4M251.7 717.4v6.4M260.0 721.8v6.4M263.3 724.0v6.4M270.0 728.1v6.4M280.0 732.8v6.4M290.0 733.9v6.4M293.3 734.0v6.4M303.3 737.8v6.4M306.7 740.1v6.4M310.0 741.0v6.4M313.3 741.8v6.4M320.0 743.5v6.4M330.0 745.0v6.4M336.7 746.0v6.4M344.2 747.6v6.4M348.3 748.5v6.4M351.7 749.7v6.4M355.0 750.8v6.4M360.0 752.6v6.4M363.3 752.8v6.4M366.7 752.9v6.4M371.7 753.2v6.4M376.7 753.4v6.4M383.3 755.3v6.4M396.7 758.9v6.4M400.0 759.5v6.4M410.8 760.9v6.4M416.7 762.2v6.4M420.0 762.7v6.4M423.3 762.7v6.4M426.7 762.8v6.4M430.0 762.8v6.4M440.0 763.0v6.4M446.7 763.1v6.4M456.7 763.2v6.4M467.5 763.4v6.4M474.2 764.4v6.4M480.0 766.0v6.4M483.3 766.0v6.4M486.7 766.0v6.4M490.0 766.0v6.4M493.3 766.0v6.4M496.7 766.0v6.4M500.0 766.0v6.4M510.8 767.6v6.4M514.2 767.6v6.4M520.8 767.6v6.4M524.2 767.6v6.4M531.7 767.6v6.4M535.0 767.6v6.4M541.7 767.6v6.4M545.0 767.6v6.4M548.3 767.6v6.4M551.7 767.6v6.4M555.0 767.6v6.4M558.0 769.1v6.4M560.2 770.1v6.4M562.4 770.3v6.4M564.6 770.4v6.4M566.8 770.5v6.4M569.0 770.6v6.4M571.2 770.8v6.4M573.4 770.9v6.4M575.6 771.3v6.4M577.8 772.4v6.4M580.0 772.6v6.4M582.2 772.6v6.4M584.4 772.6v6.4M586.6 772.6v6.4M588.8 772.6v6.4M591.0 772.6v6.4M593.2 772.6v6.4M595.4 772.6v6.4M597.6 772.6v6.4M599.8 772.6v6.4" fill="none" stroke="#acaeb1" stroke-width="1.6"/>
<path d="M176.7 662.5L186.7 662.5H189.2V664.6H191.7V666.7H197.5V667.5H203.3V668.3H205.8V670.4H208.3V672.5H211.7V673.3H215.0V674.2H217.9V675.8H220.8V677.5H223.8V679.2H226.7V680.8H230.0V682.3H233.3V683.8H236.7V685.2H240.0V686.7L251.7 687.5H256.1V688.9H260.6V690.3H265.0V691.7H268.3V693.3H271.7V695.0H275.0V696.7H278.3V697.9H281.7V699.2H284.4V700.8H287.2V702.5H290.0V704.2H296.7V705.8H303.3V707.5L316.7 707.5H320.0V708.8H323.3V710.0H330.8V711.7H338.3V713.3H349.2V714.2H360.0V715.0H369.2V715.8H378.3V716.7H380.0V719.6H381.7V722.5L502.0 723.3L503.3 723.3L520.0 723.3H522.5V724.6H525.0V725.8L560.0 725.8H562.5V728.3H565.0V730.8L581.7 730.8H583.3V731.7H585.0V732.5L601.7 732.5L601.7 732.5" fill="none" stroke="#77797c" stroke-width="2.0" stroke-linejoin="round"/>
<path d="M182.5 659.3v6.4M185.8 659.3v6.4M195.8 664.1v6.4M203.3 665.1v6.4M206.7 667.9v6.4M210.0 669.7v6.4M213.3 670.5v6.4M226.7 677.6v6.4M229.2 678.7v6.4M246.7 683.9v6.4M265.8 688.9v6.4M273.3 692.6v6.4M275.8 693.8v6.4M278.3 694.7v6.4M290.0 701.0v6.4M296.7 702.6v6.4M300.0 703.5v6.4M303.3 704.3v6.4M320.0 705.5v6.4M323.3 706.8v6.4M336.7 709.8v6.4M340.0 710.3v6.4M350.8 711.1v6.4M360.0 711.8v6.4M371.7 712.9v6.4M375.0 713.2v6.4M378.3 713.5v6.4M381.7 719.3v6.4M386.7 719.3v6.4M394.2 719.4v6.4M397.5 719.4v6.4M400.8 719.4v6.4M414.2 719.5v6.4M420.8 719.6v6.4M424.2 719.6v6.4M427.5 719.6v6.4M430.8 719.6v6.4M440.0 719.7v6.4M443.3 719.7v6.4M446.7 719.8v6.4M450.0 719.8v6.4M453.3 719.8v6.4M460.0 719.8v6.4M463.3 719.9v6.4M470.8 719.9v6.4M474.2 719.9v6.4M477.5 720.0v6.4M484.2 720.0v6.4M487.5 720.0v6.4M490.8 720.1v6.4M494.2 720.1v6.4M497.5 720.1v6.4M500.8 720.1v6.4M504.2 720.1v6.4M507.5 720.1v6.4M517.5 720.1v6.4M520.8 720.5v6.4M524.2 722.2v6.4M535.0 722.6v6.4M538.3 722.6v6.4M541.7 722.6v6.4M545.0 722.6v6.4M551.7 722.6v6.4M555.0 722.6v6.4M558.3 722.6v6.4M561.7 724.3v6.4M565.0 727.6v6.4M567.2 727.6v6.4M569.4 727.6v6.4M571.6 727.6v6.4M573.8 727.6v6.4M576.0 727.6v6.4M578.2 727.6v6.4M580.4 727.6v6.4M582.6 728.1v6.4M584.8 729.2v6.4M587.0 729.3v6.4M589.2 729.3v6.4M591.4 729.3v6.4M593.6 729.3v6.4M595.8 729.3v6.4M598.0 729.3v6.4M600.2 729.3v6.4" fill="none" stroke="#77797c" stroke-width="1.6"/>
<path d="M154.00 645.00V995.80H600.30" fill="none" stroke="#cdcfd2" stroke-width="1.7"/>
<line x1="147.80" y1="662.50" x2="153.50" y2="662.50" stroke="#adb0b4" stroke-width="2.0"/>
<text x="109.03" y="669.20" font-size="19.0" font-weight="bold">100</text>
<line x1="147.80" y1="725.50" x2="153.50" y2="725.50" stroke="#adb0b4" stroke-width="2.0"/>
<text x="119.57" y="732.05" font-size="19.0" font-weight="bold">80</text>
<line x1="147.80" y1="787.80" x2="153.50" y2="787.80" stroke="#adb0b4" stroke-width="2.0"/>
<text x="119.57" y="794.20" font-size="19.0" font-weight="bold">60</text>
<line x1="147.80" y1="851.70" x2="153.50" y2="851.70" stroke="#adb0b4" stroke-width="2.0"/>
<text x="119.57" y="857.90" font-size="19.0" font-weight="bold">40</text>
<line x1="147.80" y1="915.00" x2="153.50" y2="915.00" stroke="#adb0b4" stroke-width="2.0"/>
<text x="119.57" y="921.05" font-size="19.0" font-weight="bold">20</text>
<line x1="147.80" y1="977.80" x2="153.50" y2="977.80" stroke="#adb0b4" stroke-width="2.0"/>
<text x="130.12" y="983.70" font-size="19.0" font-weight="bold">0</text>
<line x1="176.30" y1="996.30" x2="176.30" y2="1002.70" stroke="#adb0b4" stroke-width="2.0"/>
<text x="171.67" y="1023.60" font-size="16.67" font-weight="bold">0</text>
<line x1="256.60" y1="996.30" x2="256.60" y2="1002.70" stroke="#adb0b4" stroke-width="2.0"/>
<text x="252.02" y="1023.60" font-size="16.67" font-weight="bold">2</text>
<line x1="336.90" y1="996.30" x2="336.90" y2="1002.70" stroke="#adb0b4" stroke-width="2.0"/>
<text x="332.19" y="1023.60" font-size="16.67" font-weight="bold">4</text>
<line x1="417.20" y1="996.30" x2="417.20" y2="1002.70" stroke="#adb0b4" stroke-width="2.0"/>
<text x="412.57" y="1023.60" font-size="16.67" font-weight="bold">6</text>
<line x1="497.50" y1="996.30" x2="497.50" y2="1002.70" stroke="#adb0b4" stroke-width="2.0"/>
<text x="492.87" y="1023.60" font-size="16.67" font-weight="bold">8</text>
<line x1="577.80" y1="996.30" x2="577.80" y2="1002.70" stroke="#adb0b4" stroke-width="2.0"/>
<text x="568.38" y="1023.60" font-size="16.67" font-weight="bold">10</text>
<text x="77.26" y="644.90" font-size="41.5" font-weight="bold">d</text>
<text transform="translate(94.00 820.00) rotate(-90)" text-anchor="middle" font-size="18.75" font-weight="bold">% Recurrence</text>
<text x="263.72" y="1051.50" font-size="16.67" font-weight="bold">Relapse-free survival (years)</text>
<text x="28.75" y="1026.50" font-size="16.67">Number of</text>
<text x="-0.84" y="1046.50" font-size="16.67">patients at risk</text>
<text x="201.91" y="885.60" font-size="18.75" font-weight="bold">Validation Cohort</text>
<text x="198.56" y="911.50" font-size="18.75">GMS 0</text>
<text x="198.86" y="936.80" font-size="18.75">GMS 1</text>
<text x="198.56" y="959.00" font-size="18.75">GMS 2</text>
<text x="367.50" y="934.80" font-size="18.75">HR 1.82 95% CI 1.35–2.46</text>
<text x="367.50" y="958.10" font-size="18.75">HR 3.09 95% CI 2.19–4.36</text>
<text x="201.47" y="984.00" font-size="16.67">Log rank <tspan font-style="italic">p</tspan> &lt; 0.001</text>
<text x="615.75" y="727.50" font-size="18.75" font-weight="bold">GMS 0</text>
<text x="616.55" y="777.50" font-size="18.75" font-weight="bold">GMS 1</text>
<text x="616.55" y="825.60" font-size="18.75" font-weight="bold">GMS 2</text>
<text x="54.74" y="1093.30" font-size="16.67">GMS 0</text>
<text x="127.63" y="1093.30" font-size="16.67">300 (0)</text>
<text x="206.17" y="1093.30" font-size="16.67">261 (25)</text>
<text x="292.17" y="1093.30" font-size="16.67">227 (46)</text>
<text x="389.10" y="1093.30" font-size="16.67">197 (50)</text>
<text x="482.10" y="1093.30" font-size="16.67">166 (51)</text>
<text x="573.30" y="1093.30" font-size="16.67">118 (55)</text>
<text x="54.91" y="1130.00" font-size="16.67">GMS 1</text>
<text x="127.63" y="1130.00" font-size="16.67">424 (0)</text>
<text x="206.17" y="1130.00" font-size="16.67">321 (78)</text>
<text x="292.17" y="1130.00" font-size="16.67">271 (111)</text>
<text x="389.10" y="1130.00" font-size="16.67">233 (128)</text>
<text x="482.10" y="1130.00" font-size="16.67">206 (133)</text>
<text x="573.30" y="1130.00" font-size="16.67">145 (137)</text>
<text x="54.99" y="1165.80" font-size="16.67">GMS 2</text>
<text x="127.63" y="1165.80" font-size="16.67">138 (0)</text>
<text x="206.17" y="1165.80" font-size="16.67">90 (44)</text>
<text x="292.17" y="1165.80" font-size="16.67">67 (62)</text>
<text x="389.10" y="1165.80" font-size="16.67">62 (66)</text>
<text x="482.10" y="1165.80" font-size="16.67">59 (67)</text>
<text x="573.30" y="1165.80" font-size="16.67">41 (68)</text>
</g>
<g id="panel-e">
<path d="M851.7 665.0H852.5V669.2H853.3V673.3L864.2 674.2L865.0 680.8H866.2V681.7H867.5V682.5L868.3 690.0H869.6V690.8H870.8V691.7L871.7 697.5L884.2 697.5L885.0 708.3L890.8 709.2L891.7 720.0H893.3V720.8H895.0V721.7L895.8 726.7L898.3 727.5L899.2 732.5L907.5 732.5L908.3 737.5L917.5 737.5L918.3 743.3H920.0V744.2H921.7V745.0L922.5 750.0H923.8V750.8H925.0V751.7L925.8 755.8L938.3 755.8L939.2 760.8L940.8 761.7L941.7 773.3L981.7 773.3L982.5 779.2L1139.2 779.2L1140.0 785.8L1177.0 785.8L1178.0 785.8L1276.3 785.8L1276.5 785.8" fill="none" stroke="#d6d8da" stroke-width="2.0" stroke-linejoin="round"/>
<path d="M948.3 770.1v6.4M951.7 770.1v6.4M1015.0 776.0v6.4M1226.8 782.6v6.4M1230.2 782.6v6.4M1239.3 782.6v6.4M1242.7 782.6v6.4M1246.0 782.6v6.4M1251.0 782.6v6.4M1257.7 782.6v6.4M1269.3 782.6v6.4M1272.7 782.6v6.4M1276.0 782.6v6.4" fill="none" stroke="#d6d8da" stroke-width="1.6"/>
<path d="M850.8 665.0H853.8V665.8H856.7V666.7H867.5V667.9H878.3V669.2H881.1V670.6H883.9V671.9H886.7V673.3H891.7V674.2H896.7V675.0H900.0V676.7H903.3V678.3H906.7V680.0H910.0V682.5H913.3V685.0H920.0V686.2H926.7V687.5H932.5V688.3H938.3V689.2H941.7V691.2H945.0V693.3H948.9V694.7H952.8V696.1H956.7V697.5H962.5V698.3H968.3V699.2H972.5V700.4H976.7V701.7H978.3V703.2H980.0V704.7L995.0 705.8L1016.7 706.7H1020.0V708.8H1023.3V710.8H1031.7V711.7H1040.0V712.5L1058.3 713.3H1061.7V714.6H1065.0V715.8H1068.3V717.1H1071.7V718.3L1086.7 719.2H1091.7V720.0H1096.7V720.8L1116.7 721.7H1120.0V722.3H1123.3V723.0L1143.3 723.0H1146.7V724.2H1150.0V725.4H1153.3V726.7L1177.0 726.7L1177.7 726.7L1232.7 726.7H1235.2V727.5H1237.7V728.3L1251.0 728.3H1253.5V729.6H1256.0V730.8L1277.7 730.8L1277.7 730.8" fill="none" stroke="#acaeb1" stroke-width="2.0" stroke-linejoin="round"/>
<path d="M852.5 662.3v6.4M863.3 664.2v6.4M880.8 667.2v6.4M887.5 670.3v6.4M897.5 672.2v6.4M906.7 676.8v6.4M910.0 679.3v6.4M914.2 682.0v6.4M928.3 684.5v6.4M938.3 686.0v6.4M945.0 690.1v6.4M968.3 696.0v6.4M978.3 700.0v6.4M981.7 701.6v6.4M988.3 702.1v6.4M995.0 702.6v6.4M1005.0 703.0v6.4M1011.7 703.3v6.4M1019.2 705.0v6.4M1022.5 707.1v6.4M1025.8 707.9v6.4M1029.2 708.2v6.4M1035.8 708.9v6.4M1042.5 709.4v6.4M1045.8 709.6v6.4M1049.2 709.7v6.4M1052.5 709.9v6.4M1059.2 710.4v6.4M1071.7 715.1v6.4M1075.0 715.3v6.4M1077.5 715.5v6.4M1085.8 715.9v6.4M1092.5 716.9v6.4M1099.2 717.7v6.4M1102.5 717.9v6.4M1105.8 718.0v6.4M1116.7 718.5v6.4M1133.3 719.8v6.4M1143.3 719.8v6.4M1155.0 723.5v6.4M1158.3 723.5v6.4M1161.7 723.5v6.4M1165.0 723.5v6.4M1168.3 723.5v6.4M1171.7 723.5v6.4M1175.0 723.5v6.4M1186.0 723.5v6.4M1189.3 723.5v6.4M1196.8 723.5v6.4M1200.2 723.5v6.4M1206.8 723.5v6.4M1210.2 723.5v6.4M1220.2 723.5v6.4M1223.5 723.5v6.4M1226.8 723.5v6.4M1230.2 723.5v6.4M1233.5 723.7v6.4M1237.7 725.1v6.4M1240.2 725.1v6.4M1242.7 725.1v6.4M1245.2 725.1v6.4M1247.7 725.1v6.4M1250.2 725.1v6.4M1255.2 727.2v6.4M1264.3 727.6v6.4M1266.8 727.6v6.4M1269.3 727.6v6.4M1271.8 727.6v6.4M1274.3 727.6v6.4M1276.8 727.6v6.4" fill="none" stroke="#acaeb1" stroke-width="1.6"/>
<path d="M850.8 662.5L861.7 662.5H863.3V663.3H865.0V664.2L880.0 664.2H881.7V666.2H883.3V668.3L896.7 668.3H900.0V670.0H903.3V671.7L910.0 671.7H911.7V672.5H913.3V673.3L928.3 673.3H929.2V674.3H930.0V675.3L940.0 675.3H943.3V677.7H946.7V680.0H951.7V681.7H956.7V683.3H960.0V686.2H963.3V689.2H970.0V690.0H976.7V690.8H977.5V692.2H978.3V693.7L991.7 693.7H994.2V695.6H996.7V697.5H1000.0V698.3H1003.3V699.2L1040.0 699.2H1043.3V700.4H1046.7V701.7L1053.3 701.7H1055.0V702.9H1056.7V704.2L1113.3 704.2H1115.0V705.4H1116.7V706.7L1177.0 706.7L1177.7 707.0L1194.3 707.0H1196.8V708.1H1199.3V709.2L1277.7 709.2L1277.7 709.2" fill="none" stroke="#77797c" stroke-width="2.0" stroke-linejoin="round"/>
<path d="M856.7 659.3v6.4M860.0 659.3v6.4M870.8 661.0v6.4M904.2 668.5v6.4M921.7 670.1v6.4M940.8 672.7v6.4M948.3 677.4v6.4M951.7 678.5v6.4M964.2 686.1v6.4M971.7 687.0v6.4M975.0 687.4v6.4M978.3 690.5v6.4M995.0 693.0v6.4M998.3 694.7v6.4M1015.0 696.0v6.4M1025.0 696.0v6.4M1035.0 696.0v6.4M1045.0 697.8v6.4M1048.3 698.5v6.4M1051.7 698.5v6.4M1055.8 700.3v6.4M1062.5 701.0v6.4M1070.0 701.0v6.4M1073.3 701.0v6.4M1076.7 701.0v6.4M1089.2 701.0v6.4M1098.3 701.0v6.4M1101.7 701.0v6.4M1105.0 701.0v6.4M1115.0 702.2v6.4M1118.3 703.5v6.4M1121.7 703.5v6.4M1125.0 703.5v6.4M1128.3 703.5v6.4M1131.7 703.5v6.4M1140.0 703.5v6.4M1146.7 703.5v6.4M1150.0 703.5v6.4M1153.3 703.5v6.4M1160.0 703.5v6.4M1163.3 703.5v6.4M1170.8 703.5v6.4M1174.2 703.5v6.4M1183.5 703.8v6.4M1199.3 706.0v6.4M1209.3 706.0v6.4M1212.7 706.0v6.4M1216.0 706.0v6.4M1219.3 706.0v6.4M1227.7 706.0v6.4M1231.0 706.0v6.4M1234.3 706.0v6.4M1237.7 706.0v6.4M1241.0 706.0v6.4M1247.7 706.0v6.4M1251.0 706.0v6.4M1254.3 706.0v6.4M1257.7 706.0v6.4M1261.0 706.0v6.4M1266.0 706.0v6.4M1269.3 706.0v6.4M1272.7 706.0v6.4M1276.0 706.0v6.4" fill="none" stroke="#77797c" stroke-width="1.6"/>
<path d="M828.70 645.00V995.30H1276.30" fill="none" stroke="#cdcfd2" stroke-width="1.7"/>
<line x1="822.50" y1="662.50" x2="828.20" y2="662.50" stroke="#adb0b4" stroke-width="2.0"/>
<text x="783.23" y="669.20" font-size="19.0" font-weight="bold">100</text>
<line x1="822.50" y1="725.50" x2="828.20" y2="725.50" stroke="#adb0b4" stroke-width="2.0"/>
<text x="793.77" y="732.05" font-size="19.0" font-weight="bold">80</text>
<line x1="822.50" y1="787.80" x2="828.20" y2="787.80" stroke="#adb0b4" stroke-width="2.0"/>
<text x="793.77" y="794.20" font-size="19.0" font-weight="bold">60</text>
<line x1="822.50" y1="851.70" x2="828.20" y2="851.70" stroke="#adb0b4" stroke-width="2.0"/>
<text x="793.77" y="857.90" font-size="19.0" font-weight="bold">40</text>
<line x1="822.50" y1="915.00" x2="828.20" y2="915.00" stroke="#adb0b4" stroke-width="2.0"/>
<text x="793.77" y="921.05" font-size="19.0" font-weight="bold">20</text>
<line x1="822.50" y1="977.80" x2="828.20" y2="977.80" stroke="#adb0b4" stroke-width="2.0"/>
<text x="804.32" y="983.70" font-size="19.0" font-weight="bold">0</text>
<line x1="850.70" y1="995.80" x2="850.70" y2="1002.20" stroke="#adb0b4" stroke-width="2.0"/>
<text x="846.07" y="1023.60" font-size="16.67" font-weight="bold">0</text>
<line x1="931.30" y1="995.80" x2="931.30" y2="1002.20" stroke="#adb0b4" stroke-width="2.0"/>
<text x="926.72" y="1023.60" font-size="16.67" font-weight="bold">2</text>
<line x1="1011.90" y1="995.80" x2="1011.90" y2="1002.20" stroke="#adb0b4" stroke-width="2.0"/>
<text x="1007.19" y="1023.60" font-size="16.67" font-weight="bold">4</text>
<line x1="1092.50" y1="995.80" x2="1092.50" y2="1002.20" stroke="#adb0b4" stroke-width="2.0"/>
<text x="1087.87" y="1023.60" font-size="16.67" font-weight="bold">6</text>
<line x1="1173.10" y1="995.80" x2="1173.10" y2="1002.20" stroke="#adb0b4" stroke-width="2.0"/>
<text x="1168.47" y="1023.60" font-size="16.67" font-weight="bold">8</text>
<line x1="1253.70" y1="995.80" x2="1253.70" y2="1002.20" stroke="#adb0b4" stroke-width="2.0"/>
<text x="1244.28" y="1023.60" font-size="16.67" font-weight="bold">10</text>
<text x="750.98" y="644.90" font-size="41.5" font-weight="bold">e</text>
<text transform="translate(767.50 820.00) rotate(-90)" text-anchor="middle" font-size="18.75" font-weight="bold">% Survival</text>
<text x="938.52" y="1051.50" font-size="16.67" font-weight="bold">Relapse-free survival (years)</text>
<text x="720.95" y="1026.50" font-size="16.67">Number of</text>
<text x="691.36" y="1046.50" font-size="16.67">patients at risk</text>
<text x="871.38" y="886.00" font-size="18.75" font-weight="bold">Low risk validation cohort patients</text>
<text x="870.56" y="911.00" font-size="18.75">GMS 0</text>
<text x="870.86" y="936.50" font-size="18.75">GMS 1</text>
<text x="870.56" y="958.50" font-size="18.75">GMS 2</text>
<text x="1041.00" y="935.10" font-size="18.75">HR 1.42 95% CI 0.90–2.25</text>
<text x="1041.00" y="958.50" font-size="18.75">HR 3.24 95% CI 1.85–5.68</text>
<text x="874.67" y="984.00" font-size="16.67">Log rank <tspan font-style="italic">p</tspan> &lt; 0.001</text>
<text x="1291.75" y="703.50" font-size="18.75" font-weight="bold">GMS 0</text>
<text x="1293.05" y="736.50" font-size="18.75" font-weight="bold">GMS 1</text>
<text x="1293.05" y="792.30" font-size="18.75" font-weight="bold">GMS 2</text>
<text x="747.04" y="1093.30" font-size="16.67">GMS 0</text>
<text x="813.17" y="1093.30" font-size="16.67">201 (0)</text>
<text x="887.80" y="1093.30" font-size="16.67">185 (8)</text>
<text x="978.10" y="1093.30" font-size="16.67">158 (22)</text>
<text x="1069.80" y="1093.30" font-size="16.67">137 (25)</text>
<text x="1156.40" y="1093.30" font-size="16.67">116 (26)</text>
<text x="1258.35" y="1093.30" font-size="16.67">86 (27)</text>
<text x="747.21" y="1130.00" font-size="16.67">GMS 1</text>
<text x="813.17" y="1130.00" font-size="16.67">244 (0)</text>
<text x="887.80" y="1130.00" font-size="16.67">211 (19)</text>
<text x="978.10" y="1130.00" font-size="16.67">185 (33)</text>
<text x="1069.80" y="1130.00" font-size="16.67">161 (41)</text>
<text x="1156.40" y="1130.00" font-size="16.67">141 (45)</text>
<text x="1258.35" y="1130.00" font-size="16.67">104 (46)</text>
<text x="747.29" y="1165.80" font-size="16.67">GMS 2</text>
<text x="813.17" y="1165.80" font-size="16.67">54 (0)</text>
<text x="887.80" y="1165.80" font-size="16.67">38 (16)</text>
<text x="978.10" y="1165.80" font-size="16.67">32 (20)</text>
<text x="1069.80" y="1165.80" font-size="16.67">31 (20)</text>
<text x="1156.40" y="1165.80" font-size="16.67">30 (21)</text>
<text x="1258.35" y="1165.80" font-size="16.67">22 (21)</text>
</g>
<g id="panel-f">
<path d="M1521.7 666.7H1524.2V670.0H1526.7V673.3H1530.0V679.2H1533.3V685.0H1536.7V690.0H1540.0V695.0H1542.5V700.8H1545.0V706.7H1548.3V710.8H1551.7V715.0H1555.0V716.7H1558.3V718.3H1561.7V720.0H1563.3V725.0H1565.0V730.0H1569.6V731.7H1574.2V733.3L1575.0 743.3H1578.3V746.2H1581.7V749.2H1585.0V752.1H1588.3V755.0H1590.0V759.2H1591.7V763.3H1594.2V765.8H1596.7V768.3H1603.3V770.0H1610.0V771.7H1613.3V776.7H1616.7V781.7H1620.0V785.0H1623.3V788.3H1626.7V791.7H1632.5V792.5H1638.3V793.3H1640.0V796.7H1641.7V800.0H1645.8V801.7H1650.0V803.3H1653.3V805.0H1656.7V806.7L1668.3 807.5H1670.0V812.1H1671.7V816.7H1673.3V818.3H1675.0V820.0L1675.8 830.0L1691.7 830.0L1692.5 838.3L1718.3 839.2H1719.6V840.8H1720.8V842.5H1723.8V844.6H1726.7V846.7L1881.7 846.7H1883.3V848.8H1885.0V850.8L1946.7 850.8L1946.7 850.8" fill="none" stroke="#d6d8da" stroke-width="2.0" stroke-linejoin="round"/>
<path d="M1635.8 789.8v6.4M1642.5 797.1v6.4M1816.7 843.5v6.4M1836.7 843.5v6.4M1816.7 843.5v6.4M1836.7 843.5v6.4M1893.3 847.6v6.4M1903.3 847.6v6.4M1910.0 847.6v6.4M1913.3 847.6v6.4M1920.0 847.6v6.4M1934.2 847.6v6.4" fill="none" stroke="#d6d8da" stroke-width="1.6"/>
<path d="M1521.7 665.0H1525.0V668.3H1528.3V671.7H1531.7V677.5H1535.0V683.3H1537.8V686.1H1540.6V688.9H1543.3V691.7H1546.1V695.0H1548.9V698.3H1551.7V701.7H1552.5V707.5H1553.3V713.3H1556.7V716.1H1560.0V718.9H1563.3V721.7H1564.2V727.5H1565.0V733.3H1567.8V736.1H1570.6V738.9H1573.3V741.7H1576.7V748.3H1580.0V755.0H1583.8V756.7H1587.5V758.3L1588.3 765.0H1591.3V766.3H1594.3V767.7H1597.3V769.0H1600.3V770.3H1603.3V771.7H1606.1V774.4H1608.9V777.2H1611.7V780.0H1614.6V782.1H1617.5V784.2H1620.4V786.2H1623.3V788.3H1625.0V790.0H1626.7V791.7L1643.3 791.7H1645.8V793.3H1648.3V795.0H1651.7V797.5H1655.0V800.0H1662.5V801.7H1670.0V803.3H1675.0V805.0H1680.0V806.7H1689.2V807.5H1698.3V808.3H1701.1V810.3H1703.9V812.2H1706.7V814.2H1715.0V815.4H1723.3V816.7H1725.0V819.2H1726.7V821.7H1735.0V822.5H1743.3V823.3L1758.3 824.2H1761.7V826.2H1765.0V828.3L1847.0 828.3L1848.3 828.3H1850.0V829.2H1851.7V830.0L1901.7 830.0H1904.6V831.7H1907.5V833.3H1910.4V835.0H1913.3V836.7L1946.7 836.7L1946.7 836.7" fill="none" stroke="#acaeb1" stroke-width="2.0" stroke-linejoin="round"/>
<path d="M1526.7 666.8v6.4M1533.3 677.2v6.4M1537.5 682.6v6.4M1567.5 732.6v6.4M1580.8 752.2v6.4M1605.0 770.1v6.4M1615.0 779.2v6.4M1625.0 786.8v6.4M1655.0 796.8v6.4M1699.2 805.7v6.4M1709.2 811.3v6.4M1715.8 812.3v6.4M1742.5 820.0v6.4M1766.7 825.1v6.4M1775.8 825.1v6.4M1793.3 825.1v6.4M1820.0 825.1v6.4M1840.0 825.1v6.4M1870.0 826.8v6.4M1876.7 826.8v6.4M1880.0 826.8v6.4M1886.7 826.8v6.4M1890.0 826.8v6.4M1893.3 826.8v6.4M1896.7 826.8v6.4M1900.0 826.8v6.4M1906.7 829.7v6.4M1910.0 831.6v6.4M1913.3 833.5v6.4M1924.2 833.5v6.4M1930.8 833.5v6.4M1937.5 833.5v6.4M1940.8 833.5v6.4M1944.2 833.5v6.4" fill="none" stroke="#acaeb1" stroke-width="1.6"/>
<path d="M1521.7 662.5L1530.8 662.5H1532.9V666.7H1535.0V670.8H1538.3V671.7H1541.7V672.5H1544.4V675.0H1547.2V677.5H1550.0V680.0H1553.3V681.7H1556.7V683.3H1560.0V685.0H1561.7V688.3H1563.3V691.7H1566.7V694.2H1570.0V696.7H1573.3V699.2H1575.0V702.5H1576.7V705.8H1579.4V708.6H1582.2V711.4H1585.0V714.2H1588.3V716.2H1591.7V718.3L1600.8 718.3H1603.8V721.7H1606.7V725.0H1610.0V726.7H1613.3V728.3L1620.8 728.7H1623.8V730.6H1626.7V732.5H1628.3V734.3H1630.0V736.2L1667.5 736.2H1668.8V737.7H1670.0V739.2L1678.3 739.2H1680.0V740.8H1681.7V742.5L1688.3 743.3H1690.0V744.6H1691.7V745.8L1698.3 746.7H1699.6V748.2H1700.8V749.7L1725.8 749.7H1727.1V754.8H1728.3V760.0L1847.0 760.0L1848.3 760.0L1910.0 760.0H1910.8V765.0H1911.7V770.0L1930.0 770.3H1930.8V774.2H1931.7V778.0L1946.7 778.0L1946.7 778.0" fill="none" stroke="#77797c" stroke-width="2.0" stroke-linejoin="round"/>
<path d="M1548.3 675.3v6.4M1550.8 677.2v6.4M1553.3 678.5v6.4M1555.8 679.7v6.4M1558.3 681.0v6.4M1571.7 694.7v6.4M1681.7 739.3v6.4M1695.8 743.2v6.4M1729.2 756.8v6.4M1759.2 756.8v6.4M1766.7 756.8v6.4M1769.2 756.8v6.4M1771.7 756.8v6.4M1774.2 756.8v6.4M1776.7 756.8v6.4M1796.7 756.8v6.4M1806.7 756.8v6.4M1816.7 756.8v6.4M1820.0 756.8v6.4M1836.7 756.8v6.4M1840.0 756.8v6.4M1863.3 756.8v6.4M1866.7 756.8v6.4M1890.0 756.8v6.4M1896.7 756.8v6.4M1900.0 756.8v6.4M1903.3 756.8v6.4M1913.3 766.8v6.4M1916.7 766.9v6.4M1920.0 767.0v6.4M1923.3 767.0v6.4M1930.0 767.1v6.4M1937.5 774.8v6.4M1944.2 774.8v6.4" fill="none" stroke="#77797c" stroke-width="1.6"/>
<path d="M1498.80 645.00V995.80H1945.80" fill="none" stroke="#cdcfd2" stroke-width="1.7"/>
<line x1="1492.60" y1="662.50" x2="1498.30" y2="662.50" stroke="#adb0b4" stroke-width="2.0"/>
<text x="1452.53" y="669.20" font-size="19.0" font-weight="bold">100</text>
<line x1="1492.60" y1="725.50" x2="1498.30" y2="725.50" stroke="#adb0b4" stroke-width="2.0"/>
<text x="1463.07" y="732.05" font-size="19.0" font-weight="bold">80</text>
<line x1="1492.60" y1="787.80" x2="1498.30" y2="787.80" stroke="#adb0b4" stroke-width="2.0"/>
<text x="1463.07" y="794.20" font-size="19.0" font-weight="bold">60</text>
<line x1="1492.60" y1="851.70" x2="1498.30" y2="851.70" stroke="#adb0b4" stroke-width="2.0"/>
<text x="1463.07" y="857.90" font-size="19.0" font-weight="bold">40</text>
<line x1="1492.60" y1="915.00" x2="1498.30" y2="915.00" stroke="#adb0b4" stroke-width="2.0"/>
<text x="1463.07" y="921.05" font-size="19.0" font-weight="bold">20</text>
<line x1="1492.60" y1="977.80" x2="1498.30" y2="977.80" stroke="#adb0b4" stroke-width="2.0"/>
<text x="1473.62" y="983.70" font-size="19.0" font-weight="bold">0</text>
<line x1="1521.30" y1="996.60" x2="1521.30" y2="1002.20" stroke="#adb0b4" stroke-width="1.8" stroke-dasharray="1.6 1.2"/>
<text x="1516.67" y="1023.60" font-size="16.67" font-weight="bold">0</text>
<line x1="1601.80" y1="996.60" x2="1601.80" y2="1002.20" stroke="#adb0b4" stroke-width="1.8" stroke-dasharray="1.6 1.2"/>
<text x="1597.22" y="1023.60" font-size="16.67" font-weight="bold">2</text>
<line x1="1682.30" y1="996.60" x2="1682.30" y2="1002.20" stroke="#adb0b4" stroke-width="1.8" stroke-dasharray="1.6 1.2"/>
<text x="1677.59" y="1023.60" font-size="16.67" font-weight="bold">4</text>
<line x1="1762.80" y1="996.60" x2="1762.80" y2="1002.20" stroke="#adb0b4" stroke-width="1.8" stroke-dasharray="1.6 1.2"/>
<text x="1758.17" y="1023.60" font-size="16.67" font-weight="bold">6</text>
<line x1="1843.30" y1="996.60" x2="1843.30" y2="1002.20" stroke="#adb0b4" stroke-width="1.8" stroke-dasharray="1.6 1.2"/>
<text x="1838.67" y="1023.60" font-size="16.67" font-weight="bold">8</text>
<line x1="1923.80" y1="996.60" x2="1923.80" y2="1002.20" stroke="#adb0b4" stroke-width="1.8" stroke-dasharray="1.6 1.2"/>
<text x="1914.38" y="1023.60" font-size="16.67" font-weight="bold">10</text>
<text x="1425.24" y="644.90" font-size="41.5" font-weight="bold">f</text>
<text transform="translate(1439.00 820.00) rotate(-90)" text-anchor="middle" font-size="18.75" font-weight="bold">% Survival</text>
<text x="1608.92" y="1051.50" font-size="16.67" font-weight="bold">Relapse-free survival (years)</text>
<text x="1397.75" y="1018.10" font-size="16.67">Number of</text>
<text x="1368.16" y="1038.10" font-size="16.67">patients at risk</text>
<text x="1539.58" y="885.60" font-size="18.75" font-weight="bold">High risk validation cohort patients</text>
<text x="1537.36" y="911.80" font-size="18.75">GMS 0</text>
<text x="1537.66" y="937.30" font-size="18.75">GMS 1</text>
<text x="1537.36" y="959.30" font-size="18.75">GMS 2</text>
<text x="1707.60" y="935.60" font-size="18.75">HR 1.95 95% CI 1.30–2.92</text>
<text x="1707.60" y="959.00" font-size="18.75">HR 2.18 95% CI 1.39–3.41</text>
<text x="1539.47" y="984.80" font-size="16.67">Log rank <tspan font-style="italic">p</tspan> &lt; 0.001</text>
<text x="1964.25" y="781.00" font-size="18.75" font-weight="bold">GMS 0</text>
<text x="1965.05" y="834.00" font-size="18.75" font-weight="bold">GMS 1</text>
<text x="1965.05" y="853.10" font-size="18.75" font-weight="bold">GMS 2</text>
<text x="1424.04" y="1093.30" font-size="16.67">GMS 0</text>
<text x="1497.05" y="1093.30" font-size="16.67">99 (0)</text>
<text x="1571.97" y="1093.30" font-size="16.67">76 (17)</text>
<text x="1659.97" y="1093.30" font-size="16.67">69 (24)</text>
<text x="1744.77" y="1093.30" font-size="16.67">60 (29)</text>
<text x="1835.13" y="1093.30" font-size="16.67">50 (29)</text>
<text x="1922.43" y="1093.30" font-size="16.67">32 (31)</text>
<text x="1424.21" y="1130.00" font-size="16.67">GMS 1</text>
<text x="1497.05" y="1130.00" font-size="16.67">180 (0)</text>
<text x="1571.97" y="1130.00" font-size="16.67">110 (59)</text>
<text x="1659.97" y="1130.00" font-size="16.67">85 (78)</text>
<text x="1744.77" y="1130.00" font-size="16.67">72 (87)</text>
<text x="1835.13" y="1130.00" font-size="16.67">65 (88)</text>
<text x="1922.43" y="1130.00" font-size="16.67">41 (91)</text>
<text x="1424.29" y="1165.80" font-size="16.67">GMS 2</text>
<text x="1497.05" y="1165.80" font-size="16.67">84 (0)</text>
<text x="1571.97" y="1165.80" font-size="16.67">52 (28)</text>
<text x="1659.97" y="1165.80" font-size="16.67">35 (42)</text>
<text x="1744.77" y="1165.80" font-size="16.67">31 (46)</text>
<text x="1835.13" y="1165.80" font-size="16.67">29 (46)</text>
<text x="1922.43" y="1165.80" font-size="16.67">19 (47)</text>
</g>
</svg>
</body></html>
